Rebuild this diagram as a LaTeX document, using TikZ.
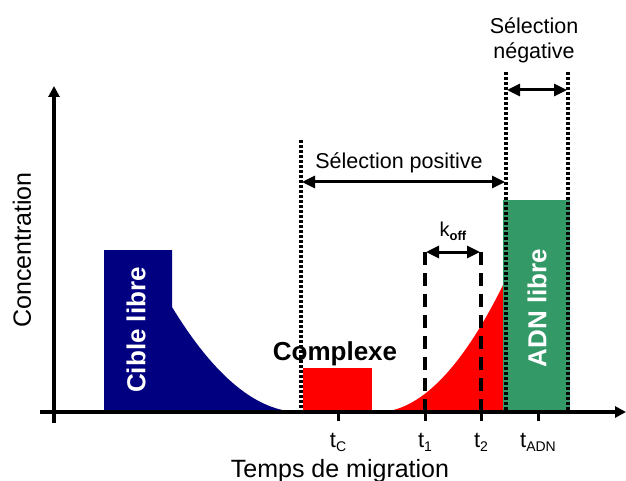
\documentclass[tikz,border=0pt]{standalone}
\usepackage{fontspec}
\setmainfont{Liberation Sans}
\usetikzlibrary{arrows.meta}
\definecolor{navyblue}{RGB}{0,0,128}
\definecolor{pred}{RGB}{255,0,0}
\definecolor{adngreen}{RGB}{51,153,102}
\tikzset{
  axisline/.style={line width=4pt,-{Triangle[length=11pt,width=11pt]}},
  dotline/.style={line width=3.4pt,dash pattern=on 3pt off 2pt},
  dashline/.style={line width=3.4pt,dash pattern=on 13pt off 8pt},
  dimarrow/.style={line width=3pt,{Triangle[length=13pt,width=12pt]}-{Triangle[length=13pt,width=12pt]}},
  tickline/.style={line width=3pt},
  labtext/.style={inner sep=0pt,font=\fontsize{21.5}{24}\selectfont},
  axtext/.style={inner sep=0pt,font=\fontsize{25}{28}\selectfont},
  boldwhite/.style={inner sep=0pt,text=white,font=\bfseries\fontsize{26}{28}\selectfont},
  ticktext/.style={inner sep=0pt,anchor=base,font=\fontsize{22}{24}\selectfont},
}
\newcommand{\subtx}[1]{\raisebox{-4pt}{\fontsize{14}{14}\selectfont #1}}
\begin{document}
\begin{tikzpicture}[x=1pt,y=-1pt]
\useasboundingbox (0,0) rectangle (626,481);
% fills
\fill[navyblue] (104,412) -- (104,250) -- (172,250) -- (172,307)
  .. controls (214.7,377) and (257.3,412) .. (300,412) -- cycle;
\fill[pred] (303,368) rectangle (372,412);
\fill[pred] (378,412) .. controls (419,412) and (462,369) .. (504,283) -- (504,412) -- cycle;
\fill[adngreen] (503,200) rectangle (570,412);
% text inside
\node[boldwhite,rotate=90] (cible) at (136,330) {Cible libre};
\node[boldwhite,rotate=90] (adn) at (537,308) {ADN libre};
\node[inner sep=0pt,anchor=base,font=\bfseries\fontsize{26}{28}\selectfont] (complexe) at (335,360) {Complexe};
% dotted lines
\coordinate (d1t) at (301,140); \coordinate (d1b) at (301,412);
\coordinate (d2t) at (506,72);  \coordinate (d2b) at (506,412);
\coordinate (d3t) at (568,72);  \coordinate (d3b) at (568,412);
\draw[dotline] (d1t) -- (d1b);
\draw[dotline] (d2t) -- (d2b);
\draw[dotline] (d3t) -- (d3b);
% dashed lines
\coordinate (e1t) at (425,252); \coordinate (e1b) at (425,412);
\coordinate (e2t) at (481,252); \coordinate (e2b) at (481,412);
\draw[dashline] (e1t) -- (e1b);
\draw[dashline] (e2t) -- (e2b);
% axes
\coordinate (xo) at (40,412); \coordinate (xe) at (626,412);
\coordinate (yo) at (54,423); \coordinate (ye) at (54,86);
\draw[axisline] (xo) -- (xe);
\draw[axisline] (yo) -- (ye);
% ticks
\foreach \x/\n in {338/tc,425/t1,481/t2,538/tadn} {
  \coordinate (\n top) at (\x,412);
  \coordinate (\n bot) at (\x,421);
  \draw[tickline] (\n top) -- (\n bot);
}
% dimension arrows
\coordinate (pa) at (302,182); \coordinate (pb) at (505,182);
\draw[dimarrow] (pa) -- (pb);
\coordinate (na) at (507,90); \coordinate (nb) at (567,90);
\draw[dimarrow] (na) -- (nb);
\coordinate (ka) at (426,252); \coordinate (kb) at (480,252);
\draw[dimarrow] (ka) -- (kb);
% labels
\node[labtext,anchor=base] (selpos) at (399,169) {Sélection positive};
\node[labtext,anchor=base] (sel1) at (534,34) {Sélection};
\node[labtext,anchor=base] (sel2) at (534,59) {négative};
\node[inner sep=0pt,anchor=base,font=\fontsize{20}{22}\selectfont] (koff) at (453,236) {k\raisebox{-4pt}{\bfseries\fontsize{13}{13}\selectfont off}};
\node[ticktext] (ltc) at (338,447) {t\subtx{C}};
\node[ticktext] (lt1) at (425,447) {t\subtx{1}};
\node[ticktext] (lt2) at (481,447) {t\subtx{2}};
\node[ticktext] (ltadn) at (538,447) {t\subtx{ADN}};
\node[axtext,anchor=base] (xlab) at (340,477) {Temps de migration};
\node[axtext,rotate=90] (ylab) at (22,250) {Concentration};
\end{tikzpicture}
\end{document}
